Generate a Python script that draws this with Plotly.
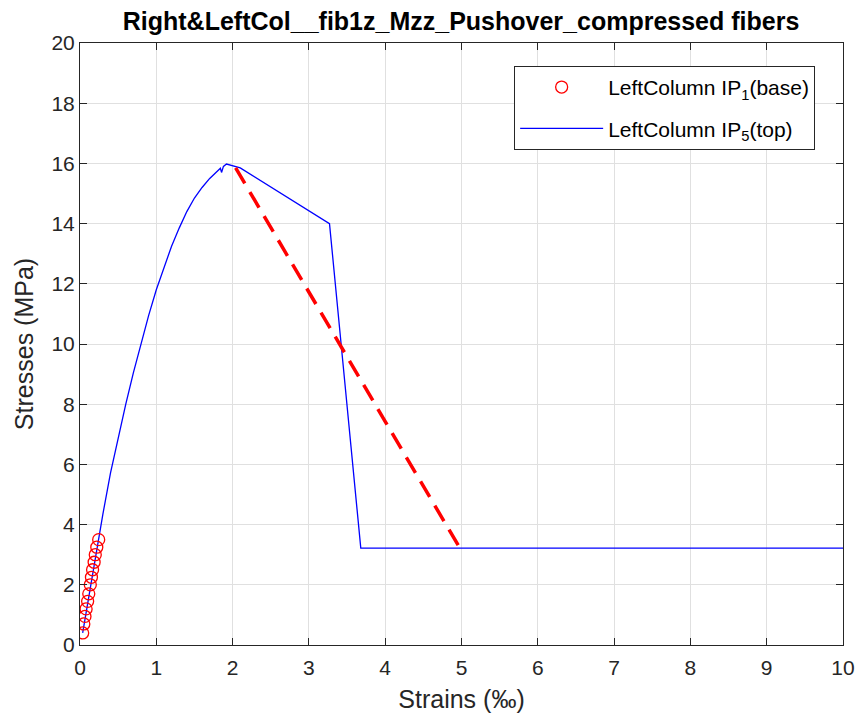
import plotly.graph_objects as go

# Integration point 1 (base) of the left column: strain (‰) / stress (MPa)
ip1_strain = [0.035, 0.05, 0.065, 0.08, 0.10, 0.115, 0.135, 0.15, 0.165, 0.185, 0.20, 0.22, 0.245]
ip1_stress = [0.40, 0.70, 0.95, 1.20, 1.45, 1.70, 2.00, 2.25, 2.50, 2.75, 3.00, 3.25, 3.50]

# Integration point 5 (top) of the left column
ip5_strain = [0.035, 0.10, 0.20, 0.30, 0.40, 0.50, 0.60, 0.70, 0.80, 0.90, 1.00,
              1.10, 1.20, 1.30, 1.40, 1.50, 1.60, 1.70, 1.80, 1.84, 1.855, 1.88, 1.92,
              2.00, 2.10, 3.27, 3.68, 10.0]
ip5_stress = [0.40, 1.40, 2.90, 4.35, 5.72, 6.90, 8.00, 9.05, 10.0, 10.95, 11.8,
              12.55, 13.25, 13.85, 14.4, 14.85, 15.2, 15.5, 15.75, 15.84, 15.70, 15.90, 15.98,
              15.93, 15.85, 14.0, 3.22, 3.22]

# Softening reference line
soft_strain = [2.04, 4.96]
soft_stress = [15.85, 3.30]

x_ticks = list(range(0, 11))
y_ticks = list(range(0, 21, 2))

FONT = "Liberation Sans, Arial, Helvetica, sans-serif"
AX = "#262626"

fig = go.Figure()
fig.add_trace(go.Scatter(
    x=ip5_strain, y=ip5_stress, mode="lines",
    line=dict(color="#0000ff", width=1.3),
    name="LeftColumn IP<sub>5</sub>(top)", legendrank=2, legendgroup="top"))
fig.add_trace(go.Scatter(
    x=ip1_strain, y=ip1_stress, mode="markers",
    marker=dict(symbol="circle-open", size=12, color="#ff0000", line=dict(width=1.3)),
    name="LeftColumn IP<sub>1</sub>(base)", legendrank=1, legendgroup="base"))
fig.add_trace(go.Scatter(
    x=soft_strain, y=soft_stress, mode="lines",
    line=dict(color="#ff0000", width=3.5, dash="18px,10px"),
    showlegend=False))

axis_common = dict(
    showline=True, linecolor=AX, linewidth=1, mirror="ticks",
    ticks="inside", ticklen=7, tickcolor=AX,
    showgrid=True, gridcolor="#e0e0e0", gridwidth=1,
    zeroline=False, automargin=False,
    tickfont=dict(family=FONT, size=21, color=AX),
)

fig.update_layout(
    width=856, height=718,
    margin=dict(l=80, r=13, t=43, b=73),
    paper_bgcolor="white", plot_bgcolor="white",
    title=dict(text="<b>Right&LeftCol__fib1z_Mzz_Pushover_compressed fibers</b>",
               x=0.5386, xanchor="center", xref="container",
               y=0.971, yanchor="middle", yref="container",
               font=dict(family=FONT, size=25, color="#000000")),
    xaxis=dict(range=[0, 10], tickvals=x_ticks, ticklabelstandoff=4,
               title=dict(text="Strains (‰)", font=dict(family=FONT, size=25, color=AX),
                          standoff=12),
               **axis_common),
    yaxis=dict(range=[0, 20], tickvals=y_ticks,
               title=dict(text="Stresses (MPa)", font=dict(family=FONT, size=25, color=AX),
                          standoff=10),
               **axis_common),
    legend=dict(x=0.569, y=0.962, xanchor="left", yanchor="top",
                bgcolor="white", bordercolor=AX, borderwidth=1,
                font=dict(family=FONT, size=21, color="#000000"),
                itemwidth=83, traceorder="grouped", tracegroupgap=11),
    showlegend=True,
)

fig.write_html("out.html")
